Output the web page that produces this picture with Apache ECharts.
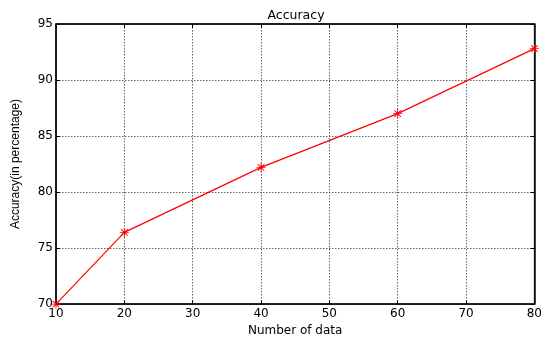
<!DOCTYPE html>
<html>
<head>
<meta charset="utf-8">
<script src="https://cdn.jsdelivr.net/npm/echarts@6/dist/echarts.min.js"></script>
<style>html,body{margin:0;padding:0;background:#fff;}#c{width:545px;height:342px;}</style>
</head>
<body>
<div id="c"></div>
<script>
const xValues = [10, 20, 40, 60, 80];
const accuracy = [70, 76.4, 82.2, 87.0, 92.8];
const titleText = 'Accuracy';
const xName = 'Number of data';
const yName = 'Accuracy(in percentage)';

const star = 'path://M0,4.5L10,4.5L10,5.5L0,5.5Z M4.5,0L5.5,0L5.5,10L4.5,10Z M1,1.7L1.7,1L9,8.3L8.3,9Z M8.3,1L9,1.7L1.7,9L1,8.3Z';
const font = 'DejaVu Sans';
const chart = echarts.init(document.getElementById('c'));
const gridLine = {show: true, lineStyle: {color: '#666', type: [1.5, 1.5], width: 1}};
chart.setOption({
  animation: false,
  title: {text: titleText, left: 291, top: 4, textAlign: 'center',
    textStyle: {fontFamily: font, fontSize: 12.5, fontWeight: 'normal', color: '#000'}},
  grid: {left: 56, right: 10, top: 24, bottom: 33, show: true, borderColor: '#000', borderWidth: 1},
  xAxis: [{
    type: 'value', min: 10, max: 80, interval: 10, position: 'bottom',
    name: xName, nameLocation: 'middle', nameGap: 17,
    nameTextStyle: {fontFamily: font, fontSize: 12, color: '#000'},
    axisLine: {show: true, onZero: false, lineStyle: {color: '#000', width: 1.5}},
    axisTick: {show: true, inside: true, length: 4, lineStyle: {color: '#000'}},
    axisLabel: {fontFamily: font, fontSize: 12, color: '#000', margin: 4},
    splitLine: gridLine
  }, {
    type: 'value', min: 10, max: 80, interval: 10, position: 'top',
    axisLine: {show: true, lineStyle: {color: '#000', width: 1.5}},
    axisTick: {show: true, inside: true, length: 4, lineStyle: {color: '#000'}},
    axisLabel: {show: false}, splitLine: {show: false}
  }],
  yAxis: [{
    type: 'value', min: 70, max: 95, interval: 5, position: 'left',
    name: yName, nameLocation: 'middle', nameGap: 34,
    nameTextStyle: {fontFamily: 'Liberation Sans', fontSize: 12, color: '#000'},
    axisLine: {show: true, onZero: false, lineStyle: {color: '#000', width: 1.5}},
    axisTick: {show: true, inside: true, length: 4, lineStyle: {color: '#000'}},
    axisLabel: {fontFamily: font, fontSize: 12, color: '#000', margin: 3},
    splitLine: gridLine
  }, {
    type: 'value', min: 70, max: 95, interval: 5, position: 'right',
    axisLine: {show: true, lineStyle: {color: '#000', width: 1.5}},
    axisTick: {show: true, inside: true, length: 4, lineStyle: {color: '#000'}},
    axisLabel: {show: false}, splitLine: {show: false}
  }],
  series: [{
    type: 'line',
    data: xValues.map((x, i) => [x, accuracy[i]]),
    symbol: star, symbolSize: 9,
    itemStyle: {color: '#ff0000'},
    lineStyle: {color: '#ff0000', width: 1.2},
    clip: false
  }]
});
</script>
</body>
</html>
